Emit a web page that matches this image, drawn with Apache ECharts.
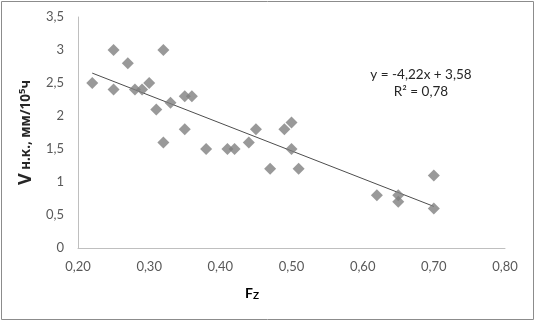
<!DOCTYPE html>
<html>
<head>
<meta charset="utf-8">
<script src="https://cdn.jsdelivr.net/npm/echarts@6/dist/echarts.min.js"></script>
<style>
html,body{margin:0;padding:0;background:#fff;}
#chart{width:536px;height:322px;}
</style>
</head>
<body>
<div id="chart"></div>
<script>
// точки Fz / V н.к.
var fzValues = [0.22,0.25,0.25,0.27,0.28,0.29,0.30,0.31,0.32,0.32,0.33,0.35,0.35,0.36,0.38,
                0.41,0.42,0.44,0.45,0.47,0.49,0.50,0.50,0.51,0.62,0.65,0.65,0.70,0.70];
var vValues  = [2.5,3.0,2.4,2.8,2.4,2.4,2.5,2.1,3.0,1.6,2.2,2.3,1.8,2.3,1.5,
                1.5,1.5,1.6,1.8,1.2,1.8,1.9,1.5,1.2,0.8,0.8,0.7,1.1,0.6];
// линия тренда (концы, как на рисунке)
var trendX = [0.22, 0.70];
var trendY = [2.65, 0.63];
var trendText = ['y = -4,22x + 3,58', 'R² = 0,78'];

var points = fzValues.map(function(v,i){ return [v, vValues[i]]; });
var trend = trendX.map(function(v,i){ return [v, trendY[i]]; });

var labelFont = 'Lato';
var cyrFont = 'Noto Sans';
var chart = echarts.init(document.getElementById('chart'));
chart.setOption({
    animation:false,
    grid:{left:78, right:31, top:17, bottom:74},
    xAxis:{
        type:'value', min:0.2, max:0.8, interval:0.1,
        axisLine:{lineStyle:{color:'#bfbfbf'}},
        axisTick:{show:false},
        splitLine:{show:false},
        axisLabel:{color:'#595959', fontFamily:labelFont, fontSize:13, margin:12,
            formatter:function(v){ return v.toFixed(2).replace('.',','); }}
    },
    yAxis:{
        type:'value', min:0, max:3.5, interval:0.5,
        axisLine:{show:true, lineStyle:{color:'#bfbfbf'}},
        axisTick:{show:false},
        splitLine:{show:false},
        axisLabel:{color:'#595959', fontFamily:labelFont, fontSize:13, margin:14,
            formatter:function(v){ return String(v).replace('.',','); }},
        name:'{v|V}{s| н.к., мм/10}{sup|5}{s|ч}',
        nameLocation:'middle', nameGap:33, nameRotate:90,
        nameTextStyle:{
            rich:{
                v:{fontFamily:cyrFont, fontWeight:'bold', fontSize:18, color:'#262626'},
                s:{fontFamily:cyrFont, fontWeight:'bold', fontSize:13.5, color:'#262626'},
                sup:{fontFamily:cyrFont, fontWeight:'bold', fontSize:9.5, color:'#262626', verticalAlign:'top', padding:[0,0,7,0]}
            }
        }
    },
    graphic:[
        {type:'rect', shape:{x:1.5, y:1.5, width:532, height:318},
         style:{fill:null, stroke:'#8c8c8c', lineWidth:1}, silent:true},
        {type:'text', left:245, top:286,
         style:{text:'{f|F}{z|Z}', rich:{
             f:{fontFamily:labelFont, fontWeight:'bold', fontSize:14, color:'#262626'},
             z:{fontFamily:labelFont, fontWeight:'bold', fontSize:10, color:'#262626', verticalAlign:'bottom', padding:[6,0,0,0]}
         }}},
        {type:'text', x:421, y:83,
         style:{text:trendText.join('\n'), align:'center', verticalAlign:'middle', fontFamily:labelFont, fontSize:13.5,
                lineHeight:17, fill:'#262626'}}
    ],
    series:[
        {type:'scatter', data:points, symbol:'diamond', symbolSize:12,
         itemStyle:{color:'#7f7f7f'}, z:3},
        {type:'line', data:trend, symbol:'none', lineStyle:{color:'#4d4d4d', width:1}, z:2, silent:true}
    ]
});
</script>
</body>
</html>
